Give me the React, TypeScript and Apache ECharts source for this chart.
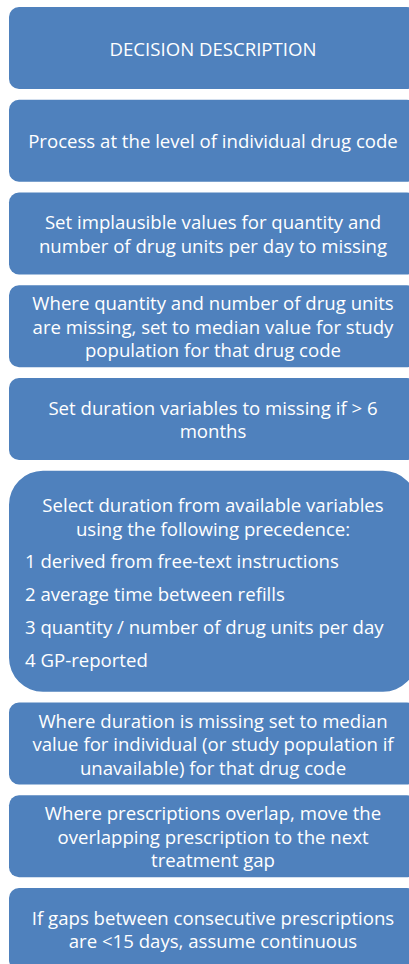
import React, { useEffect, useRef } from "react";
import * as echarts from "echarts";

// ---- content ----
const header = ["DECISION DESCRIPTION"];
const step1 = ["Process at the level of individual drug code"];
const step2 = [
  "Set implausible values for quantity and",
  "number of drug units per day to missing",
];
const step3 = [
  "Where quantity and number of drug units",
  "are missing, set to median value for study",
  "population for that drug code",
];
const step4 = ["Set duration variables to missing if > 6", "months"];
const step5Intro = [
  "Select duration from available variables",
  "using the following precedence:",
];
const step5List = [
  "1 derived from free-text instructions",
  "2 average time between refills",
  "3 quantity / number of drug units per day",
  "4 GP-reported",
];
const step6 = [
  "Where duration is missing set to median",
  "value for individual (or study population if",
  "unavailable) for that drug code",
];
const step7 = [
  "Where prescriptions overlap, move the",
  "overlapping prescription to the next",
  "treatment gap",
];
const step8 = [
  "If gaps between consecutive prescriptions",
  "are <15 days, assume continuous",
];

const simpleBoxes = [header, step1, step2, step3, step4];
const laterBoxes = [step6, step7, step8];

export default function App() {
  const ref = useRef<HTMLDivElement>(null);
  useEffect(() => {
    if (!ref.current) return;
    const chart = echarts.init(ref.current, null, { renderer: "svg" });
    const BLUE = "#4F81BD";
    const FONT = "Open Sans";
    const FS = 18.6;
    const LH = 23.5;
    const LEFT = 9;
    const WIDTH = 408;
    const CX = LEFT + WIDTH / 2;
    const H = 82;
    const GAP = 10.75;
    const TALL = 221;
    const elements: any[] = [];

    const addBox = (top: number, h: number, r: number) => {
      elements.push({
        type: "rect",
        shape: { x: LEFT, y: top, width: WIDTH, height: h, r },
        style: { fill: BLUE },
      });
    };
    const addCentered = (lines: string[], cy: number) => {
      const n = lines.length;
      lines.forEach((t, i) => {
        elements.push({
          type: "text",
          style: {
            text: t,
            x: CX,
            y: cy + (i - (n - 1) / 2) * LH,
            align: "center",
            verticalAlign: "middle",
            fill: "#ffffff",
            fontFamily: FONT,
            fontSize: FS,
          },
        });
      });
    };

    let top = 7;
    simpleBoxes.forEach((lines) => {
      addBox(top, H, 10);
      addCentered(lines, top + H / 2);
      top += H + GAP;
    });

    // tall box
    addBox(top, TALL, 34);
    const introY = top + 34;
    step5Intro.forEach((t, i) => {
      elements.push({
        type: "text",
        style: {
          text: t,
          x: CX,
          y: introY + i * LH,
          align: "center",
          verticalAlign: "middle",
          fill: "#ffffff",
          fontFamily: FONT,
          fontSize: FS,
        },
      });
    });
    const listY = introY + LH + 32;
    step5List.forEach((t, i) => {
      elements.push({
        type: "text",
        style: {
          text: t,
          x: 25,
          y: listY + i * 33,
          align: "left",
          verticalAlign: "middle",
          fill: "#ffffff",
          fontFamily: FONT,
          fontSize: FS,
        },
      });
    });
    top += TALL + GAP;

    laterBoxes.forEach((lines) => {
      addBox(top, H, 10);
      addCentered(lines, top + H / 2);
      top += H + GAP;
    });

    chart.setOption({
      animation: false,
      backgroundColor: "#ffffff",
      graphic: { elements },
    });
    return () => chart.dispose();
  }, []);
  return (
    <div
      ref={ref}
      style={{ position: "fixed", left: 0, top: 0, width: 409, height: 964 }}
    />
  );
}
